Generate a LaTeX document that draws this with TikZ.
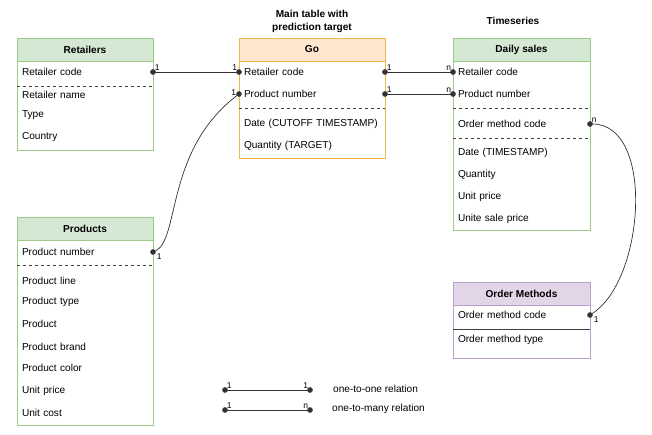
\documentclass[tikz,border=0pt]{standalone}
\usepackage{fontspec}
\setmainfont{Liberation Sans}
\usepackage{xcolor}
\usetikzlibrary{arrows.meta}

\definecolor{grnfill}{HTML}{D5E8D4}
\definecolor{grnline}{HTML}{9CCB8C}
\definecolor{orgfill}{HTML}{FFE6CC}
\definecolor{orgline}{HTML}{F2B64A}
\definecolor{prpfill}{HTML}{E1D5E7}
\definecolor{prpline}{HTML}{B8A0CC}

\tikzset{
    tbl/.style={draw=#1, line width=0.8pt, anchor=north west, inner sep=0pt, outer sep=0pt},
    hdr/.style={draw=#1, line width=0.8pt, anchor=north west, minimum height=23pt, inner sep=0pt, outer sep=0pt, font=\fontsize{10.1}{13}\selectfont\bfseries},
    fld/.style={anchor=west, text width=#1, align=left, inner xsep=5pt, inner ysep=0pt, outer sep=0pt, minimum height=16pt},
    sep/.style={black!75, dashed, line width=0.6pt},
    rel/.style={draw=black!80, line width=0.7pt, {Circle[length=5.5pt]}-{Circle[length=5.5pt]}, shorten <=-2.75pt, shorten >=-2.75pt},
    card/.style={font=\fontsize{8.5}{10}\selectfont, inner sep=1.5pt}
}

\begin{document}
\begin{tikzpicture}[x=1pt, y=-1pt, font=\fontsize{10.1}{13}\selectfont]
        \useasboundingbox (0,0) rectangle (652,434);

        \node[font=\fontsize{10.1}{13}\selectfont\bfseries, align=center] (gotitle) at (312,21.5) {Main table with\\prediction target};
        \node[font=\fontsize{10.1}{13}\selectfont\bfseries] (dstitle) at (513,21) {Timeseries};

        \node[tbl=grnline, minimum width=136pt, minimum height=112pt] (retailers) at (17,38) {};
        \node[hdr=grnline, fill=grnfill, minimum width=136pt] (retailershdr) at (17,38) {Retailers};
        \foreach \t/\y [count=\i] in {Retailer code/72, Retailer name/95, Type/115, Country/137} {
            \node[fld=126pt] (ret\i) at (17,\y) {\mbox{\t}};
        }
        \draw[sep] (17,86) -- (153,86);

        \node[tbl=orgline, minimum width=146pt, minimum height=120pt] (go) at (239,38) {};
        \node[hdr=orgline, fill=orgfill, minimum width=146pt] (gohdr) at (239,38) {Go};
        \foreach \t/\y [count=\i] in {Retailer code/72, Product number/94, Date (CUTOFF TIMESTAMP)/124, Quantity (TARGET)/146} {
            \node[fld=136pt] (go\i) at (239,\y) {\mbox{\t}};
        }
        \draw[sep] (239,108) -- (385,108);

        \node[tbl=grnline, minimum width=137pt, minimum height=192pt] (daily) at (453,38) {};
        \node[hdr=grnline, fill=grnfill, minimum width=137pt] (dailyhdr) at (453,38) {Daily sales};
        \foreach \t/\y [count=\i] in {Retailer code/72, Product number/94, Order method code/124, Date (TIMESTAMP)/153, Quantity/175, Unit price/197, Unite sale price/219} {
            \node[fld=127pt] (ds\i) at (453,\y) {\mbox{\t}};
        }
        \draw[sep] (453,108) -- (590,108);
        \draw[sep] (453,138) -- (590,138);

        \node[tbl=grnline, minimum width=136pt, minimum height=208pt] (products) at (17,217) {};
        \node[hdr=grnline, fill=grnfill, minimum width=136pt] (productshdr) at (17,217) {Products};
        \foreach \t/\y [count=\i] in {Product number/252, Product line/281, Product type/302, Product/324, Product brand/347, Product color/368, Unit price/391, Unit cost/413} {
            \node[fld=126pt] (prd\i) at (17,\y) {\mbox{\t}};
        }
        \draw[sep] (17,265) -- (153,265);

        \node[tbl=prpline, minimum width=137pt, minimum height=76pt] (order) at (453,282) {};
        \node[hdr=prpline, fill=prpfill, minimum width=137pt] (orderhdr) at (453,282) {Order Methods};
        \foreach \t/\y [count=\i] in {Order method code/315, Order method type/340} {
            \node[fld=127pt] (om\i) at (453,\y) {\mbox{\t}};
        }
        \draw[black!75, line width=0.7pt] (453,329) -- (590,329);

        \draw[rel] (ret1.east) -- (go1.west) node[card, pos=0, above right]{1} node[card, pos=1, above left]{1};
        \draw[rel] (go2.west) .. controls (165,150) and (180,240) .. (prd1.east) node[card, pos=0, left, xshift=-1pt, yshift=1.5pt]{1} node[card, pos=1, below right, xshift=2pt]{1};
        \draw[rel] (go1.east) -- (ds1.west) node[card, pos=0, above right]{1} node[card, pos=1, above left]{n};
        \draw[rel] (go2.east) -- (ds2.west) node[card, pos=0, above right]{1} node[card, pos=1, above left]{n};
        \draw[rel] (ds3.east) .. controls (655,124) and (645,280) .. (om1.east) node[card, pos=0, above right]{n} node[card, pos=1, below right, xshift=2pt]{1};

        \coordinate (onea) at (225,390);
        \coordinate (oneb) at (310,390);
        \coordinate (manya) at (225,410);
        \coordinate (manyb) at (310,410);
        \draw[rel] (onea) -- (oneb) node[card, pos=0, above right]{1} node[card, pos=1, above left]{1};
        \draw[rel] (manya) -- (manyb) node[card, pos=0, above right]{1} node[card, pos=1, above left]{n};
        \node[anchor=west, inner sep=0pt] (onelbl) at (333,389) {one-to-one relation};
        \node[anchor=west, inner sep=0pt] (manylbl) at (332,409) {one-to-many relation};
\end{tikzpicture}
\end{document}
